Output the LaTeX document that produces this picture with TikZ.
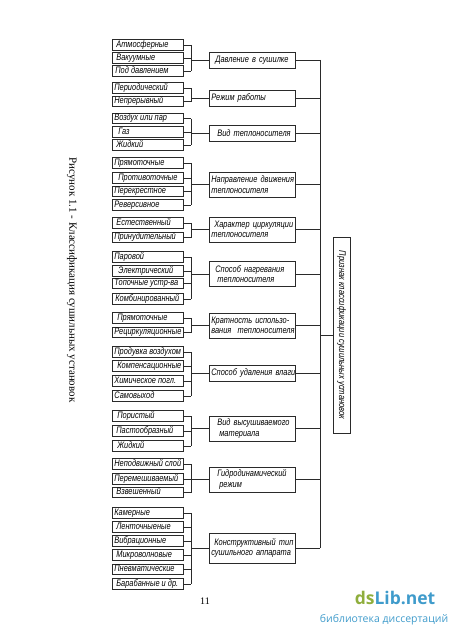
\documentclass[tikz,border=0pt]{standalone}
\usepackage{fontspec}
\setmainfont{Liberation Serif}
\newfontfamily\gost[FakeStretch=0.79]{Liberation Sans}
\newfontfamily\wmfont{Open Sans}
\definecolor{dsgreen}{HTML}{8FAE3C}
\definecolor{dsblue}{HTML}{3F9BCB}
\definecolor{ink}{HTML}{2A2A2A}
\newcommand\ltxt[1]{\makebox[67pt][l]{\rule[-2.2pt]{0pt}{8.3pt}#1}}
\begin{document}
\begin{tikzpicture}[x=1pt,y=-1pt,
  lbox/.style={draw=ink, line width=0.7pt, anchor=west, minimum height=10.5pt,
    inner xsep=2pt, inner ysep=0pt,
    font=\gost\itshape\fontsize{9.4}{9}\selectfont},
  mbox/.style={draw=ink, line width=0.7pt, anchor=west, minimum height=16pt,
    text width=82pt, inner xsep=2pt, inner ysep=2pt, align=left,
    font=\gost\itshape\fontsize{9.4}{10.5}\selectfont},
  mbox2/.style={mbox, minimum height=25pt},
  ln/.style={draw=ink, line width=0.6pt}
]
\useasboundingbox (0,0) rectangle (450,634);
\coordinate (brk) at (191,0);
\coordinate (bus) at (320,0);

% group 1
\node[lbox] (a1) at (112,45) {\ltxt{\hspace{2pt}Атмосферные}};
\node[lbox] (a2) at (112,58) {\ltxt{\hspace{2pt}Вакуумные}};
\node[lbox] (a3) at (112,71) {\ltxt{\hspace{1pt}Под давлением}};
\node[mbox] (m1) at (209,60) {\mbox{\hspace{4pt}Давление в сушилке}};
% group 2
\node[lbox] (b1) at (112,88) {\ltxt{Периодический}};
\node[lbox] (b2) at (112,101.5) {\ltxt{Непрерывный}};
\node[mbox] (m2) at (209,98) {\mbox{Режим работы}};
% group 3
\node[lbox] (c1) at (112,118.5) {\ltxt{Воздух или пар}};
\node[lbox] (c2) at (112,132) {\ltxt{\hspace{4pt}Газ}};
\node[lbox] (c3) at (112,145) {\ltxt{\hspace{2pt}Жидкий}};
\node[mbox] (m3) at (209,133) {\mbox{\hspace{6pt}Вид теплоносителя}};
% group 4
\node[lbox] (d1) at (112,163) {\ltxt{Прямоточные}};
\node[lbox] (d2) at (112,178) {\ltxt{\hspace{4pt}Противоточные}};
\node[lbox] (d3) at (112,191.5) {\ltxt{Перекрестное}};
\node[lbox] (d4) at (112,205) {\ltxt{Реверсивное}};
\node[mbox2] (m4) at (209,184.5) {\mbox{Направление движения}\\\mbox{теплоносителя}};
% group 5
\node[lbox] (e1) at (112,223) {\ltxt{\hspace{2pt}Естественный}};
\node[lbox] (e2) at (112,237.5) {\ltxt{Принудительный}};
\node[mbox2] (m5) at (209,229.5) {\mbox{\hspace{3pt}Характер циркуляции}\\\mbox{теплоносителя}};
% group 6
\node[lbox] (f1) at (112,257) {\ltxt{Паровой}};
\node[lbox] (f2) at (112,271) {\ltxt{\hspace{4pt}Электрический}};
\node[lbox] (f3) at (112,283.5) {\ltxt{Топочные устр-ва}};
\node[lbox] (f4) at (112,299) {\ltxt{\hspace{1pt}Комбинированный}};
\node[mbox2] (m6) at (209,274) {\mbox{\hspace{4pt}Способ нагревания}\\\mbox{\hspace{6pt}теплоносителя}};
% group 7
\node[lbox] (h1) at (112,318) {\ltxt{\hspace{3pt}Прямоточные}};
\node[lbox] (h2) at (112,332.5) {\ltxt{Рециркуляционные}};
\node[mbox2] (m7) at (209,325.5) {\mbox{Кратность использо-}\\\mbox{вания\ \ теплоносителя}};
% group 8
\node[lbox] (i1) at (112,352) {\ltxt{Продувка воздухом}};
\node[lbox] (i2) at (112,366) {\ltxt{\hspace{3pt}Компенсационные}};
\node[lbox] (i3) at (112,381) {\ltxt{Химическое погл.}};
\node[lbox] (i4) at (112,396) {\ltxt{Самовыход}};
\node[mbox] (m8) at (209,373.5) {\mbox{Способ удаления влаги}};
% group 9
\node[lbox] (j1) at (112,416) {\ltxt{\hspace{3pt}Пористый}};
\node[lbox] (j2) at (112,431) {\ltxt{\hspace{2pt}Пастообразный}};
\node[lbox] (j3) at (112,446) {\ltxt{\hspace{3pt}Жидкий}};
\node[mbox2] (m9) at (209,428.5) {\mbox{\hspace{6pt}Вид высушиваемого}\\\mbox{\hspace{8pt}материала}};
% group 10
\node[lbox] (k1) at (112,464) {\ltxt{Неподвижный слой}};
\node[lbox] (k2) at (112,479) {\ltxt{Перемешиваемый}};
\node[lbox] (k3) at (112,492.5) {\ltxt{\hspace{2pt}Взвешенный}};
\node[mbox2] (m10) at (209,479.5) {\mbox{\hspace{6pt}Гидродинамический}\\\mbox{\hspace{8pt}режим}};
% group 11
\node[lbox] (n1) at (112,513) {\ltxt{Камерные}};
\node[lbox] (n2) at (112,527) {\ltxt{\hspace{2pt}Ленточныеные}};
\node[lbox] (n3) at (112,541) {\ltxt{Вибрационные}};
\node[lbox] (n4) at (112,555) {\ltxt{\hspace{2pt}Микроволновые}};
\node[lbox] (n5) at (112,569.5) {\ltxt{Пневматические}};
\node[lbox] (n6) at (112,584) {\ltxt{\hspace{2pt}Барабанные и др.}};
\node[mbox, minimum height=30pt] (m11) at (209,548) {\mbox{\hspace{3pt}Конструктивный тип}\\\mbox{сушильного аппарата}};

% big box
\node[draw=ink, line width=0.7pt, rotate=-90, minimum width=196pt, minimum height=17pt,
  inner sep=1pt, font=\gost\itshape\fontsize{9.6}{9}\selectfont] (big) at (341.5,335)
  {Признак классификации сушильных установок};

% brackets
\foreach \f/\l/\m/\list in {a1/a3/m1/{a1,a2,a3}, b1/b2/m2/{b1,b2}, c1/c3/m3/{c1,c2,c3},
  d1/d4/m4/{d1,d2,d3,d4}, e1/e2/m5/{e1,e2}, f1/f4/m6/{f1,f2,f3,f4}, h1/h2/m7/{h1,h2},
  i1/i4/m8/{i1,i2,i3,i4}, j1/j3/m9/{j1,j2,j3}, k1/k3/m10/{k1,k2,k3},
  n1/n6/m11/{n1,n2,n3,n4,n5,n6}}{
  \foreach \c in \list {\draw[ln] (\c.east) -- (\c.east -| brk);}
  \draw[ln] (\f.east -| brk) -- (\l.east -| brk);
  \draw[ln] (\m.west -| brk) -- (\m.west);
}
% bus
\foreach \m in {m1,m2,m3,m4,m5,m6,m7,m8,m9,m10,m11}{
  \draw[ln] (\m.east) -- (\m.east -| bus);
}
\draw[ln] (m1.east -| bus) -- (m11.east -| bus);
\draw[ln] (big.south -| bus) -- (big.south);

% caption and page number
\node[rotate=-90, font=\fontsize{11}{12}\selectfont] (cap) at (72,280)
  {Рисунок 1.1 - Классификация сушильных установок};
\node[font=\fontsize{10}{11}\selectfont] (pg) at (205,601) {11};

% watermark
\node[font=\wmfont\bfseries\fontsize{17.5}{18}\selectfont, inner sep=0pt] (wm1) at (395,598)
  {\textcolor{dsgreen}{ds}\textcolor{dsblue}{Lib.net}};
\node[font=\wmfont\fontsize{10.5}{11}\selectfont, text=dsblue, inner sep=0pt] (wm2) at (384,620)
  {библиотека диссертаций};
\end{tikzpicture}
\end{document}
